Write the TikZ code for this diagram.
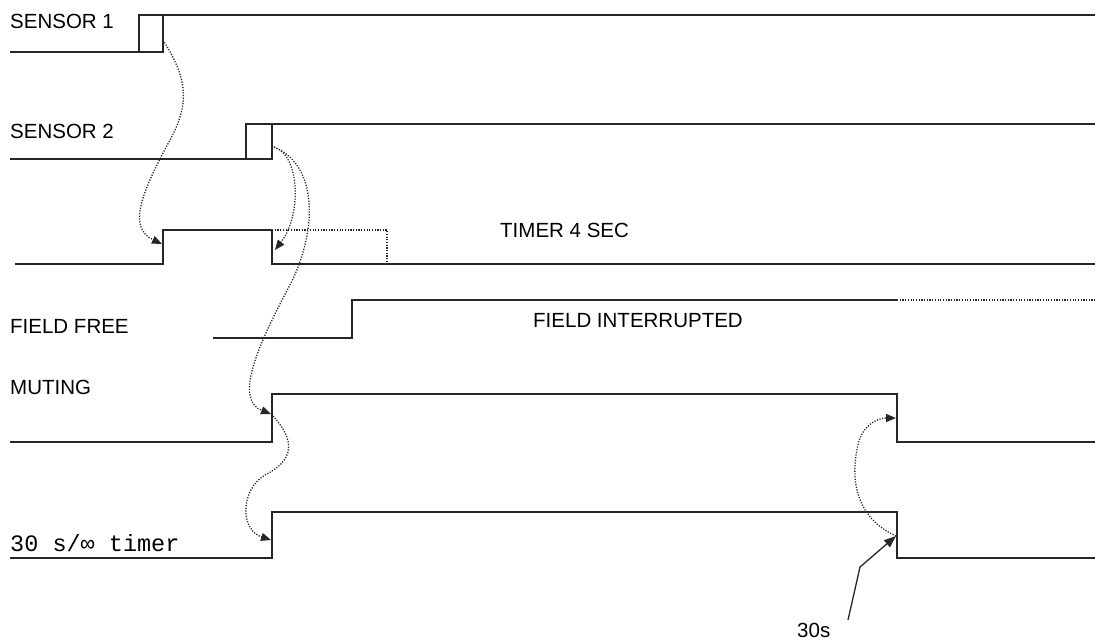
\documentclass[tikz,border=0pt]{standalone}
\usepackage{fontspec}
\setmainfont{Liberation Sans}
\newfontfamily\monof{Liberation Mono}
\usetikzlibrary{arrows.meta}
\begin{document}
\begin{tikzpicture}[x=1pt,y=-1pt,
  sig/.style={draw=black!85,line width=1.3pt,line join=miter},
  dotl/.style={draw=black!85,line width=1.3pt,dash pattern=on 1.2pt off 1.5pt},
  dotarrow/.style={dotl,-{Triangle[length=10pt,width=8pt]}},
  solarrow/.style={draw=black!85,line width=1.3pt,-{Triangle[length=12pt,width=9pt]}},
  lbl/.style={font=\fontsize{20.5}{24}\selectfont,anchor=base west,inner sep=0pt},
  mono/.style={font=\monof\fontsize{23.5}{26}\selectfont,anchor=base west,inner sep=0pt}]
\useasboundingbox (0,0) rectangle (1100,641);
% labels
\node[lbl] (l1) at (10,28) {SENSOR 1};
\node[lbl] (l2) at (10,138) {SENSOR 2};
\node[lbl] (l3) at (500,237) {TIMER 4 SEC};
\node[lbl] (l4) at (10,333) {FIELD FREE};
\node[lbl] (l5) at (533,327) {FIELD INTERRUPTED};
\node[lbl] (l6) at (10,394) {MUTING};
\node[mono] (l7) at (10,551) {30 s/\char"221E\ timer};
\node[lbl] (l8) at (797,637) {30s};
% key coordinates
\coordinate (s1a) at (163,40);
\coordinate (t1) at (162,244);
\coordinate (s2a) at (274,147);
\coordinate (t2) at (275,250);
\coordinate (m1) at (271,414);
\coordinate (m1s) at (273,416);
\coordinate (x1) at (271,540);
\coordinate (x2) at (896,536);
\coordinate (m2) at (896,418);
\coordinate (p30) at (848,620);
\coordinate (p30b) at (860,567);
% sensor 1
\draw[sig] (10,52) -- (139,52) -- (139,15) -- (1095,15);
\draw[sig] (139,52) -- (163,52) -- (163,15);
% sensor 2
\draw[sig] (10,159) -- (246,159) -- (246,124) -- (1095,124);
\draw[sig] (246,159) -- (272,159) -- (272,124);
% timer 4 sec
\draw[sig] (15,264) -- (163,264) -- (163,230) -- (272,230) -- (272,264) -- (1095,264);
\draw[dotl] (272,230) -- (387,230) -- (387,264);
% field
\draw[sig] (213,338) -- (352,338) -- (352,300) -- (897,300);
\draw[dotl] (897,300) -- (1095,300);
% muting
\draw[sig] (10,442) -- (272,442) -- (272,394) -- (897,394) -- (897,442) -- (1095,442);
% 30 s timer
\draw[sig] (10,558) -- (272,558) -- (272,512) -- (897,512) -- (897,558) -- (1095,558);
% dotted arrows
\draw[dotarrow] (s1a) .. controls (185,75) and (192,100) .. (170,140) .. controls (140,195) and (128,228) .. (t1);
\draw[dotarrow] (s2a) .. controls (300,155) and (302,215) .. (t2);
\draw[dotarrow] (s2a) .. controls (318,165) and (318,230) .. (290,285) .. controls (255,350) and (235,400) .. (m1);
\draw[dotarrow] (m1s) .. controls (295,440) and (295,460) .. (265,475) .. controls (240,490) and (240,530) .. (x1);
\draw[dotarrow] (x2) .. controls (850,515) and (852,470) .. (858,445) .. controls (862,425) and (878,418) .. (m2);
\draw[solarrow] (p30) -- (p30b) -- (x2);
\end{tikzpicture}
\end{document}
